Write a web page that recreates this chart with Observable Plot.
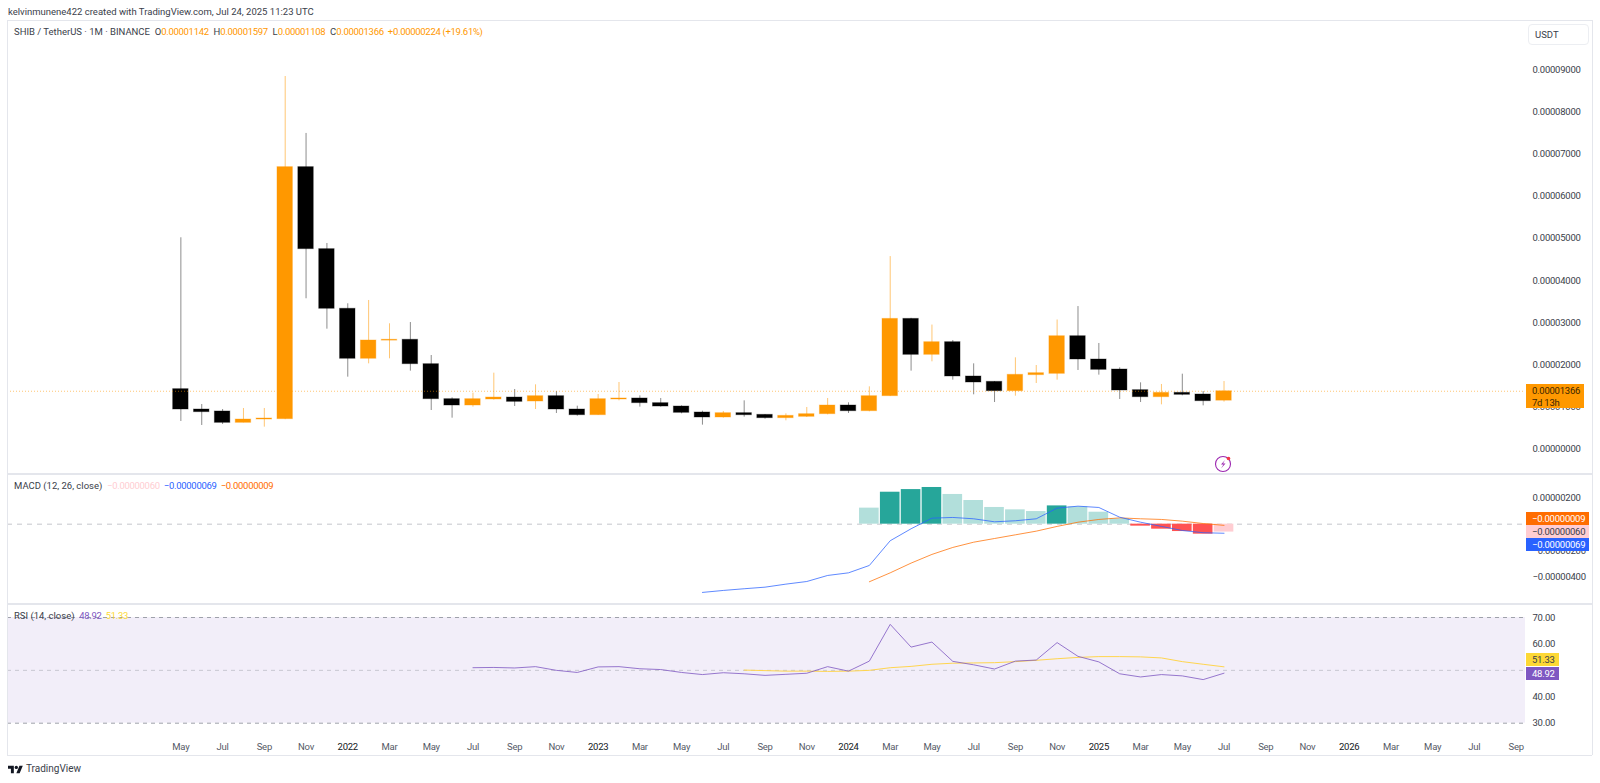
<!DOCTYPE html>
<html><head><meta charset="utf-8">
<script src="https://cdn.jsdelivr.net/npm/d3@7"></script>
<script src="https://cdn.jsdelivr.net/npm/@observablehq/plot@0.6"></script>
<style>
html,body{margin:0;padding:0;background:#fff;font-family:Roboto,sans-serif;color:#131722}
#page{position:relative;width:1600px;height:783px;overflow:hidden}
#page>svg,.panel{position:absolute}
.t{position:absolute;white-space:pre;font-size:9.5px;line-height:12px;color:#3a3e4a}
.line{position:absolute;background:#e4e6ec}
.tag{position:absolute;left:1526px;font-size:9.5px;letter-spacing:-.25px;line-height:13px;height:13px;padding-left:6px;white-space:pre;box-sizing:border-box}
</style></head><body><div id="page"></div>
<script>
// Monthly candles, May 2021 (index 0) to Jul 2025 (index 50). Prices in units of 0.00001.
const opens  = [1.416,.932,.885,.615,.694,.702,6.695,4.745,3.327,2.138,2.57,2.59,2.010,1.178,1.027,1.170,1.217,1.122,1.249,.932,.797,1.170,1.194,1.083,1.003,.861,.742,.845,.805,.726,.758,.821,1.027,.892,1.249,3.087,2.232,2.533,1.717,1.590,1.368,1.749,1.780,2.675,2.121,1.883,1.392,1.225,1.328,1.289,1.142];
const highs  = [5.015,1.051,.932,.956,.956,8.85,7.496,4.88,3.446,3.524,2.97,3.0,2.216,1.21,1.321,1.796,1.408,1.519,1.36,1.011,1.289,1.574,1.257,1.194,1.02,.892,.885,1.138,.813,.829,.980,1.194,1.091,1.471,4.568,3.10,2.94,2.573,2.018,1.598,2.161,1.978,3.06,3.38,2.502,1.923,1.566,1.527,1.772,1.360,1.597];
const lows   = [.647,.552,.575,.615,.512,.69,3.565,2.842,1.701,2.018,2.137,1.844,.908,.726,.988,1.154,1.003,.932,.837,.773,.79,1.138,.988,.988,.829,.560,.726,.750,.702,.663,.742,.805,.837,.877,1.24,1.844,2.066,1.630,1.281,1.098,1.249,1.550,1.630,1.860,1.749,1.170,1.098,1.043,1.257,1.019,1.108];
const closes = [.932,.869,.615,.694,.718,6.695,4.745,3.327,2.138,2.573,2.59,2.010,1.178,1.027,1.178,1.217,1.114,1.249,.932,.797,1.178,1.194,1.083,1.003,.853,.742,.845,.797,.726,.781,.821,1.027,.892,1.249,3.087,2.232,2.533,1.717,1.574,1.368,1.757,1.796,2.675,2.121,1.875,1.384,1.225,1.328,1.281,1.130,1.366];
const priceTicks = [0,1,2,3,4,5,6,7,8,9];
const lastPrice = 1.366;

// MACD, in units of 0.00000001, keyed by candle index.
const macdStart = 25;
const macdLine = [-519,-504,-491,-479,-456,-436,-390,-370,-314,-126,-35,46,51,41,18,26,41,122,137,127,53,15,-17,-48,-65,-69];
const signalStart = 33;
const signalLine = [-438,-370,-296,-230,-177,-137,-109,-81,-53,-17,15,36,48,41,36,23,5,-9];
const histStart = 33;
const histValues = [122,243,263,279,226,180,127,109,96,139,132,91,41,-15,-38,-56,-76,-60];
const histStrong = [34,35,36,42,46,47,48,49];
const macdTicks = [200,-200,-400];

// RSI and its moving average, keyed by candle index.
const rsiStart = 14;
const rsiLine = [51,51.1,50.9,51.4,50,49.2,51.3,51.4,50.6,50.3,49.2,48.4,49.1,48.7,48.1,48.5,48.9,51.4,49.7,53.5,67.4,58.8,60.7,53.4,52.1,50.5,53.5,53.9,60.5,55.3,53.2,48.7,47.5,48.4,47.9,46.5,48.92];
const rsiMaStart = 27;
const rsiMa = [50.1,49.9,49.7,49.7,49.6,49.7,50,51,51.5,52.3,52.7,52.8,52.9,53.3,53.8,54.4,54.9,55.2,55.2,55.1,54.7,53.3,52.3,51.33];
const rsiTicks = [70,60,40,30];
const rsiBands = [70,50,30];

// Time axis labels, every two months from index 0.
const timeLabels = ["May","Jul","Sep","Nov","2022","Mar","May","Jul","Sep","Nov","2023","Mar","May","Jul","Sep","Nov","2024","Mar","May","Jul","Sep","Nov","2025","Mar","May","Jul","Sep","Nov","2026","Mar","May","Jul","Sep"];

const ORANGE="#ff9800", BLACK="#000000", FONT="Roboto, sans-serif", AXIS="#3a3e4a";
const PU=1e-5, MU=1e-8;
const page=document.getElementById("page");
const candles=opens.map((o,i)=>({i,o:o*PU,h:highs[i]*PU,l:lows[i]*PU,c:closes[i]*PU,up:closes[i]>=o}));
const series=(arr,start,unit=1)=>arr.map((v,k)=>({i:start+k,v:v*unit}));
const xDomain=[-8.31,64.45];
const base={width:1600,marginLeft:7,marginRight:75,x:{domain:xDomain,axis:null},
  style:{fontFamily:FONT,background:"transparent",overflow:"visible",letterSpacing:"-0.25px"}};
function place(plot,top){plot.classList.add("panel");plot.style.left="0px";plot.style.top=top+"px";page.appendChild(plot);return plot;}
const yAxis=(ticks,fmt)=>Plot.axisY(ticks,{anchor:"right",label:null,tickSize:0,tickPadding:7,tickFormat:fmt,fontSize:9.5,fill:AXIS,textStroke:"none"});

const f8=d3.format(".8f");
// Main panel
const mainTop=20;
const main=place(Plot.plot({...base,height:453,marginTop:49.7,marginBottom:24.8,
  y:{domain:[0,9*PU],axis:null},
  marks:[
    yAxis(priceTicks.map(d=>d*PU),f8),
    Plot.ruleX(candles,{x:"i",y1:"l",y2:"h",stroke:d=>d.up?ORANGE:BLACK,strokeOpacity:d=>d.up?.55:.45,strokeWidth:1}),
    Plot.rect(candles,{x1:d=>d.i-.37,x2:d=>d.i+.37,y1:"o",y2:"c",fill:d=>d.up?ORANGE:BLACK,stroke:d=>d.up?ORANGE:BLACK,strokeOpacity:.35,strokeWidth:1}),
    Plot.ruleY([lastPrice*PU],{stroke:ORANGE,strokeOpacity:.55,strokeDasharray:"1 2",strokeWidth:1})
  ]}),mainTop);
// MACD panel
const macdTop=473;
const macd=place(Plot.plot({...base,height:130,marginTop:17.8,marginBottom:7,
  y:{domain:[-550*MU,250*MU],axis:null},
  marks:[
    yAxis(macdTicks.map(d=>d*MU),f8),
    Plot.ruleY([0],{stroke:"#c4c6cc",strokeDasharray:"5 5",strokeWidth:1}),
    Plot.rect(series(histValues,histStart,MU),{x1:d=>d.i-.47,x2:d=>d.i+.47,y1:0,y2:"v",
      fill:d=>histStrong.includes(d.i)?(d.v>0?"#26a69a":"#ff5252"):(d.v>0?"#b2dfdb":"#ffcdd2")}),
    Plot.line(series(signalLine,signalStart,MU),{x:"i",y:"v",stroke:"#ff6d00",strokeOpacity:.75,strokeWidth:1}),
    Plot.line(series(macdLine,macdStart,MU),{x:"i",y:"v",stroke:"#2962ff",strokeOpacity:.75,strokeWidth:1})
  ]}),macdTop);
// RSI panel
const rsiTop=603;
const rsi=place(Plot.plot({...base,height:152,marginTop:14,marginBottom:32.3,
  y:{domain:[30,70],axis:null},
  marks:[
    Plot.rectY([0],{x1:xDomain[0],x2:xDomain[1],y1:30,y2:70,fill:"#7e57c2",fillOpacity:.1}),
    yAxis(rsiTicks,d=>d3.format(".2f")(d)),
    Plot.ruleY(rsiBands,{stroke:"#9598a1",strokeOpacity:d=>d===50?.45:.9,strokeDasharray:"4 4",strokeWidth:1}),
    Plot.line(series(rsiMa,rsiMaStart),{x:"i",y:"v",stroke:"#ffd54f",strokeWidth:1}),
    Plot.line(series(rsiLine,rsiStart),{x:"i",y:"v",stroke:"#7e57c2",strokeOpacity:.8,strokeWidth:1}),
    Plot.axisX(timeLabels.map((_,k)=>k*2).filter(i=>isNaN(timeLabels[i/2])),{anchor:"bottom",label:null,tickSize:0,tickPadding:20,fontSize:9.5,fill:"#555a66",tickFormat:i=>timeLabels[i/2]}),
    Plot.axisX(timeLabels.map((_,k)=>k*2).filter(i=>!isNaN(timeLabels[i/2])),{anchor:"bottom",label:null,tickSize:0,tickPadding:20,fontSize:9.5,fill:"#131722",tickFormat:i=>timeLabels[i/2]})
  ]}),rsiTop);

// Frame and dividers
const line=(l,t,w,h,c)=>{const d=document.createElement("div");d.className="line";Object.assign(d.style,{left:l+"px",top:t+"px",width:w+"px",height:h+"px"});if(c)d.style.background=c;page.appendChild(d);};
line(7,20,1585,1);line(7,20,1,735);line(1592,20,1,735);line(7,755,1585,1);
line(7,473,1585,1.5);line(7,603,1585,1.5);

// Text
function text(x,y,parts,size){const d=document.createElement("div");d.className="t";d.style.left=x+"px";d.style.top=(y-6)+"px";if(size)d.style.fontSize=size+"px";
  parts.forEach(([s,c])=>{const sp=document.createElement("span");sp.textContent=s;if(c){sp.style.color=c;sp.style.letterSpacing="-.3px";}d.appendChild(sp);});page.appendChild(d);return d;}
text(8,12,[["kelvinmunene422 created with TradingView.com, Jul 24, 2025 11:23 UTC"]]);
const oc="#ff9800";
text(14,32,[["SHIB / TetherUS · 1M · BINANCE  O"],["0.00001142",oc],["  H"],["0.00001597",oc],["  L"],["0.00001108",oc],["  C"],["0.00001366",oc],["  +0.00000224 (+19.61%)",oc]]);
text(14,486,[["MACD (12, 26, close)  "],["−0.00000060  ","#ffcdd2"],["−0.00000069  ","#2962ff"],["−0.00000009","#ff6d00"]]);
text(14,616,[["RSI (14, close)  "],["48.92  ","#7e57c2"],["51.33","#fdd835"]]);
text(26,769,[["TradingView"]],10);

// USDT button
const usd=text(1535,34.5,[["USDT"]]);
const box=document.createElement("div");Object.assign(box.style,{position:"absolute",left:"1528px",top:"24px",width:"61px",height:"21px",border:"1px solid #eceef2",borderRadius:"4px",boxSizing:"border-box"});page.appendChild(box);

// Value tags, placed from the scales; stacked where they would collide
function tag(top,label,bg,fg,width=63,h=13){const d=document.createElement("div");d.className="tag";Object.assign(d.style,{top:top+"px",background:bg,color:fg,width:width+"px",height:h+"px"});d.textContent=label;page.appendChild(d);return d;}
const yM=v=>mainTop+main.scale("y").apply(v);
const lastY=yM(lastPrice*PU);
const t0=tag(lastY-6.5,"0.00001366\n7d 13h",ORANGE,"#3a2500",58,24);
t0.style.lineHeight="11.5px";t0.style.paddingTop="1px";
const yD=v=>macdTop+macd.scale("y").apply(v);
tag(yD(-9*MU)-13,"−0.00000009","#ff6d00","#fff");
tag(yD(-9*MU),"−0.00000060","#ffcdd2","#3a3e4a");
tag(yD(-9*MU)+13.5,"−0.00000069","#2962ff","#fff");
const yR=v=>rsiTop+rsi.scale("y").apply(v);
tag(yR(51.33)-13,"51.33","#fdd835","#3a3e4a",33);
tag(yR(48.92)-6,"48.92","#7e57c2","#fff",33);

// Decorative icons
page.insertAdjacentHTML("beforeend",`
<svg style="left:8px;top:764px" width="15" height="11" viewBox="0 0 36 26"><path fill="#131722" d="M14 22H7V11H0V4h14v18zM28 22h-8l7.5-18h8L28 22z"/><circle cx="20" cy="8" r="4" fill="#131722"/></svg>
<svg style="left:1214px;top:454px" width="20" height="20" viewBox="0 0 20 20"><circle cx="9" cy="10" r="7.5" fill="#fff" stroke="#9c27b0" stroke-width="1.1"/><path d="M11 6 L7 10.5 L9.5 10.5 L7 14.5 L11.5 9.5 L9 9.5 Z" fill="#9c27b0"/><circle cx="14.5" cy="4.5" r="1.8" fill="#f23645"/></svg>`);
</script></body></html>
